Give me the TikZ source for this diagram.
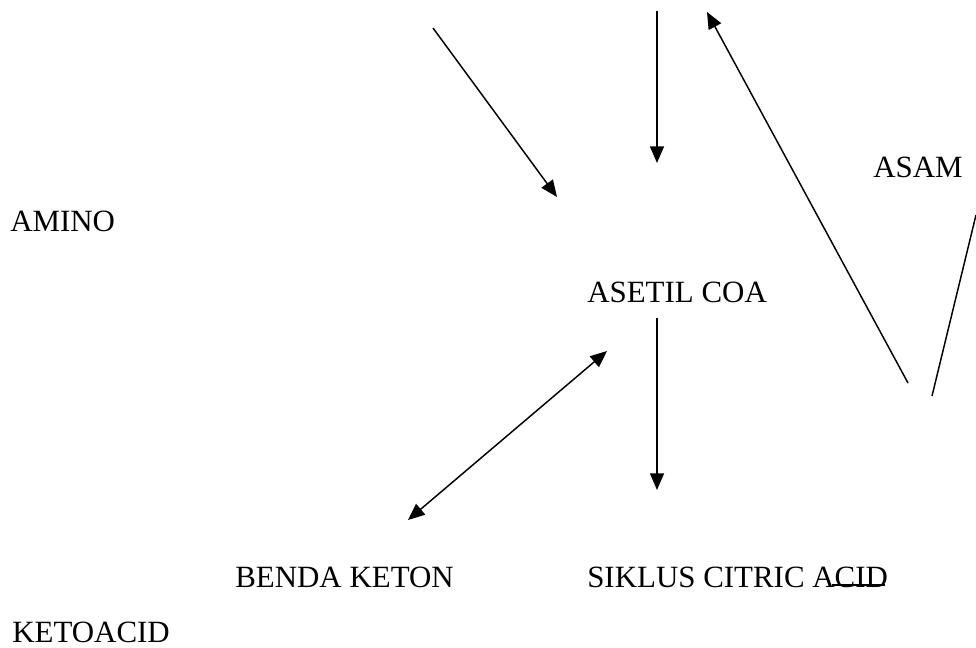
\documentclass[tikz,border=0pt]{standalone}
\usepackage{fontspec}
\setmainfont{Liberation Serif}
\usetikzlibrary{arrows.meta}
\begin{document}
\begin{tikzpicture}[x=0.75pt,y=-0.75pt,
  label/.style={anchor=base west,inner sep=0pt,font=\fontsize{23.2}{28}\selectfont},
  tip/.style={},
  flow/.style={line width=1.1pt,-{Triangle[length=12.5pt,width=10.5pt]}},
  flowboth/.style={line width=1.1pt,{Triangle[length=12.5pt,width=10.5pt]}-{Triangle[length=12.5pt,width=10.5pt]}},
  plain/.style={line width=1.1pt}]
\useasboundingbox (0,0) rectangle (976,648);

% labels
\node[label] (amino) at (10,232) {AMINO};
\node[label] (asetil) at (587,303) {ASETIL COA};
\node[label] (asam) at (873,178) {ASAM};
\node[label] (benda) at (235,588) {BENDA KETON};
\node[label] (siklus) at (587,588) {SIKLUS CITRIC ACID};
\node[label] (keto) at (12,643) {KETOACID};

% connector ends
\coordinate (a1s) at (433,28);
\coordinate (a1e) at (557,197);
\coordinate (a2s) at (657,11);
\coordinate (a2e) at (657,163);
\coordinate (a3s) at (908,383);
\coordinate (a3e) at (707,12);
\coordinate (l4s) at (932,396);
\coordinate (l4e) at (976,215);
\coordinate (dbA) at (408,520);
\coordinate (dbB) at (607,351);
\coordinate (a5s) at (657,318);
\coordinate (a5e) at (657,490);
\coordinate (ulA) at (832,585);
\coordinate (ulB) at (885,585);

\draw[flow] (a1s) -- (a1e);
\draw[flow] (a2s) -- (a2e);
\draw[flow] (a3s) -- (a3e);
\draw[plain] (l4s) -- (l4e);
\draw[flowboth] (dbA) -- (dbB);
\draw[flow] (a5s) -- (a5e);
\draw[line width=0.8pt] (ulA) -- (ulB);
\end{tikzpicture}
\end{document}
